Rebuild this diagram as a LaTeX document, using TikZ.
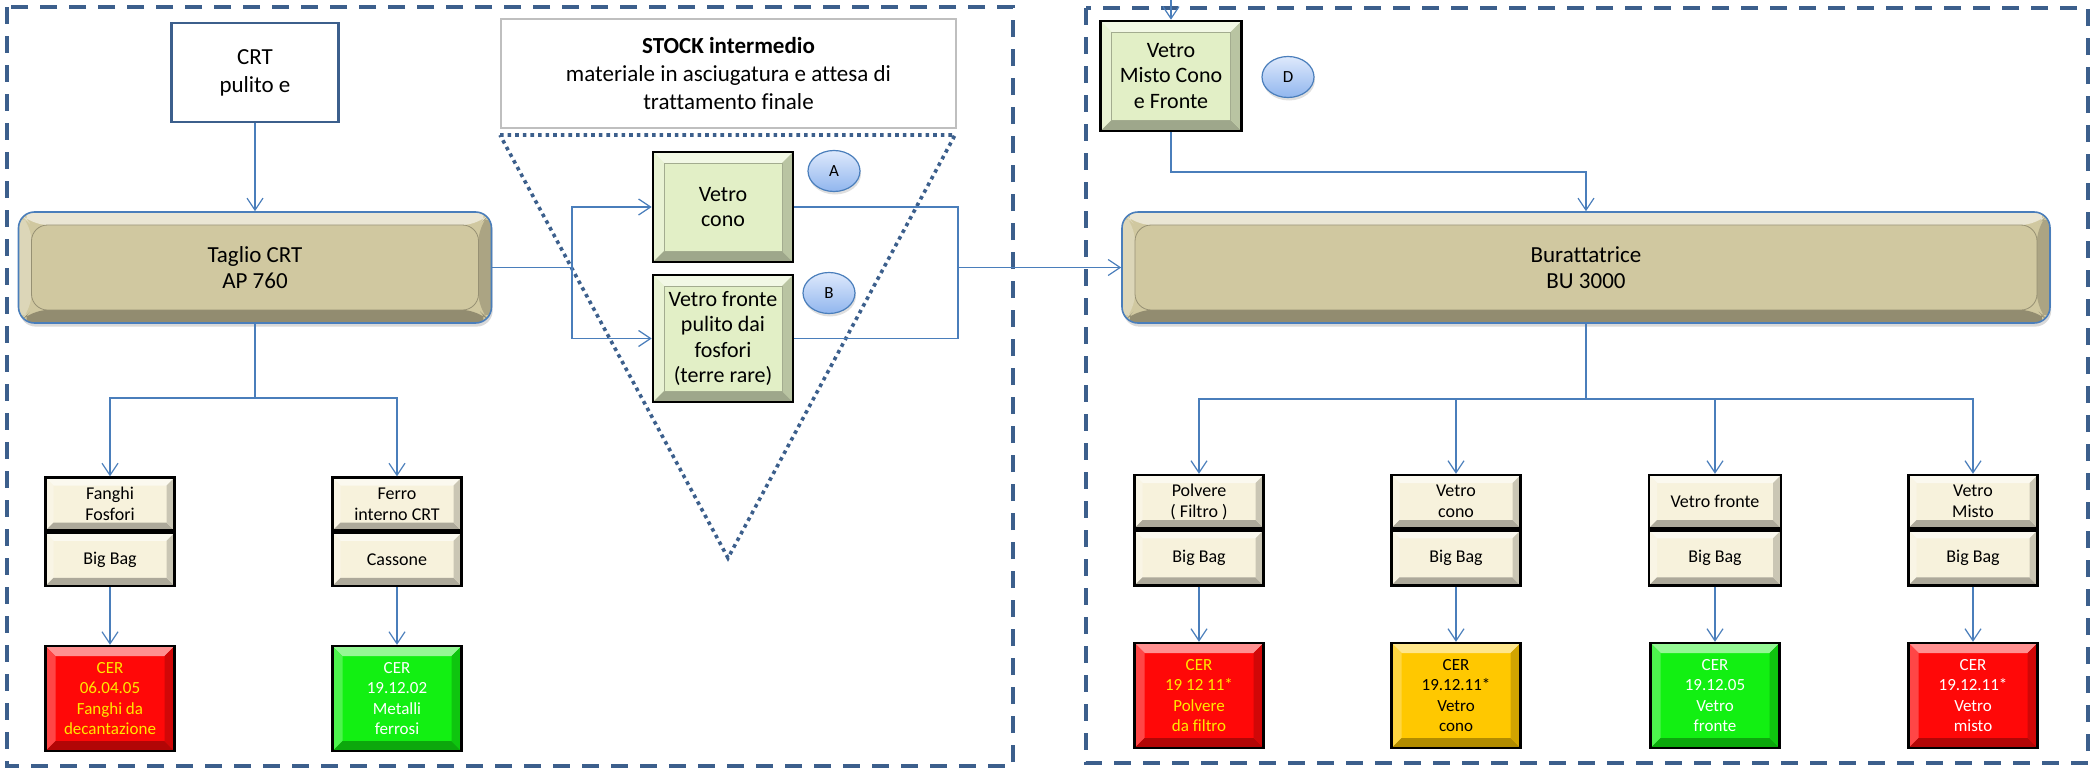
\documentclass[tikz,border=0pt]{standalone}
\usepackage{fontspec}
\setmainfont{Carlito}[Ligatures=NoCommon]
\usetikzlibrary{arrows.meta,positioning,shapes.geometric,shadows}

\definecolor{frameblue}{RGB}{60,95,140}
\definecolor{linkblue}{RGB}{74,126,187}
\definecolor{khaki}{RGB}{208,200,160}
\definecolor{stockgreen}{RGB}{226,239,198}
\definecolor{cream}{RGB}{247,242,220}
\definecolor{cerred}{RGB}{255,8,8}
\definecolor{cergreen}{RGB}{18,240,18}
\definecolor{ceryellow}{RGB}{255,200,0}
\definecolor{textyellow}{RGB}{255,232,0}
\definecolor{ovaltop}{RGB}{222,233,252}
\definecolor{ovalbot}{RGB}{145,182,238}

%% bevel edges inside a node: colour, depth
\newcommand{\bevelfill}[2]{%
  \fill[#1!45!white] (path picture bounding box.north west) -- (path picture bounding box.north east)
    -- ([shift={(-#2,-#2)}]path picture bounding box.north east) -- ([shift={(#2,-#2)}]path picture bounding box.north west) -- cycle;
  \fill[#1!75!white] (path picture bounding box.north west) -- (path picture bounding box.south west)
    -- ([shift={(#2,#2)}]path picture bounding box.south west) -- ([shift={(#2,-#2)}]path picture bounding box.north west) -- cycle;
  \fill[#1!70!black] (path picture bounding box.south west) -- (path picture bounding box.south east)
    -- ([shift={(-#2,#2)}]path picture bounding box.south east) -- ([shift={(#2,#2)}]path picture bounding box.south west) -- cycle;
  \fill[#1!82!black] (path picture bounding box.north east) -- (path picture bounding box.south east)
    -- ([shift={(-#2,#2)}]path picture bounding box.south east) -- ([shift={(-#2,-#2)}]path picture bounding box.north east) -- cycle;
}
\newcommand{\panelline}[2]{%
  \draw[#1!72!black, line width=0.4pt] ([shift={(#2,-#2)}]path picture bounding box.north west)
    rectangle ([shift={(-#2,#2)}]path picture bounding box.south east);
}

\tikzset{
  frame/.style={draw=frameblue, line width=2pt, dash pattern=on 8.5pt off 6pt},
  dotline/.style={draw=frameblue, line width=1.8pt, dash pattern=on 1.8pt off 2pt},
  link/.style={draw=linkblue, line width=0.6pt},
  conn/.style={link, -{Straight Barb[length=6pt,width=8pt]}},
  bevelled/.style 2 args={fill=#1, path picture={\bevelfill{#1}{#2}}},
  panelled/.style 2 args={fill=#1, path picture={\bevelfill{#1}{#2}\panelline{#1}{#2}}},
  plainbox/.style={draw=frameblue, line width=1.35pt, fill=white, minimum width=83.5pt,
    minimum height=49.5pt, align=center, font=\fontsize{11.5}{14}\selectfont},
  stockbox/.style={draw=black!25, line width=0.7pt, fill=white, minimum width=227.5pt,
    minimum height=54.5pt, align=center, font=\fontsize{11.5}{14}\selectfont},
  machine/.style={draw=linkblue, line width=0.8pt, rounded corners=8pt, panelled={khaki}{6.5pt},
    minimum height=55.5pt, align=center, font=\fontsize{11.5}{13.3}\selectfont,
    drop shadow={opacity=0.3, shadow xshift=0.6pt, shadow yshift=-1.8pt}},
  stockitem/.style={draw=black, line width=1.35pt, panelled={stockgreen}{5.5pt},
    minimum width=70pt, align=center, inner sep=1pt, font=\fontsize{11}{12.8}\selectfont},
  oval/.style={ellipse, draw=linkblue, line width=0.6pt, top color=ovaltop, bottom color=ovalbot,
    minimum width=26pt, minimum height=20.5pt, inner sep=0pt, font=\fontsize{8.5}{10}\selectfont,
    drop shadow={opacity=0.25, shadow xshift=0.5pt, shadow yshift=-1.5pt}},
  itembox/.style={draw=black, line width=1.2pt, bevelled={cream}{4pt}, minimum width=64.5pt,
    minimum height=26.5pt, align=center, inner sep=1pt, font=\fontsize{9}{10.5}\selectfont},
  cerbox/.style={draw=black, line width=1.2pt, bevelled={#1}{5pt}, minimum width=64.5pt,
    minimum height=52.5pt, align=center, inner sep=1pt, font=\fontsize{8.5}{10.2}\selectfont}
}

\begin{document}
\begin{tikzpicture}[x=0.5pt,y=-0.5pt]
\useasboundingbox (0,0) rectangle (2094,771);

%% areas
\draw[frame] (7,7) rectangle (1013,766);
\draw[frame] (1086,8) rectangle (2088,763);
\draw[dotline] (500,135) -- (955,135) -- (728,558) -- cycle;

%% cutting
\node[plainbox] (crt) at (255,72.5) {CRT\\pulito e};
\node[machine, minimum width=236.5pt] (taglio) at (255,267.5) {Taglio CRT\\AP 760};

\node[itembox] (fanghi) at (110,504) {Fanghi\\Fosfori};
\node[itembox, below=0pt of fanghi] (fanghibag) {Big Bag};
\node[cerbox=cerred, text=textyellow] (fanghicer) at (110,698.5) {CER\\06.04.05\\Fanghi da\\decantazione};

\node[itembox] (ferro) at (397,504) {Ferro\\interno CRT};
\node[itembox, below=0pt of ferro] (ferrobag) {Cassone};
\node[cerbox=cergreen, text=white] (ferrocer) at (397,698.5) {CER\\19.12.02\\Metalli\\ferrosi};

%% stock
\node[stockbox] (stock) at (728.5,73.5) {\textbf{STOCK intermedio}\\materiale in asciugatura e attesa di\\trattamento finale};
\node[stockitem, minimum height=55pt] (vcono) at (723,207) {Vetro\\cono};
\node[stockitem, minimum height=63.5pt] (vfronte) at (723,338.5) {Vetro fronte\\pulito dai\\fosfori\\(terre rare)};
\node[oval] (ova) at (834,171) {A};
\node[oval] (ovb) at (829,293) {B};

%% tumbling
\node[stockitem, minimum width=70.5pt, minimum height=55pt] (vmisto) at (1171,76) {Vetro\\Misto Cono\\e Fronte};
\node[oval] (ovd) at (1288,77) {D};
\node[machine, minimum width=464pt] (burat) at (1586,267.5) {Burattatrice\\BU 3000};

\node[itembox] (polv) at (1199,501.5) {Polvere\\( Filtro )};
\node[itembox, minimum height=27.5pt, below=0pt of polv] (polvbag) {Big Bag};
\node[cerbox=cerred, text=textyellow] (polvcer) at (1199,695.5) {CER\\19 12 11*\\Polvere\\da filtro};

\node[itembox] (cono) at (1456,501.5) {Vetro\\cono};
\node[itembox, minimum height=27.5pt, below=0pt of cono] (conobag) {Big Bag};
\node[cerbox=ceryellow, text=black] (conocer) at (1456,695.5) {CER\\19.12.11*\\Vetro\\cono};

\node[itembox, minimum width=66pt] (fronte) at (1715,501.5) {Vetro fronte};
\node[itembox, minimum width=66pt, minimum height=27.5pt, below=0pt of fronte] (frontebag) {Big Bag};
\node[cerbox=cergreen, text=white] (frontecer) at (1715,695.5) {CER\\19.12.05\\Vetro\\fronte};

\node[itembox] (misto) at (1973,501.5) {Vetro\\Misto};
\node[itembox, minimum height=27.5pt, below=0pt of misto] (mistobag) {Big Bag};
\node[cerbox=cerred, text=white] (mistocer) at (1973,695.5) {CER\\19.12.11*\\Vetro\\misto};

%% junctions
\coordinate (lbus) at (255,398);
\coordinate (lsplit) at (572,267.5);
\coordinate (rmerge) at (958,267.5);
\coordinate (vmtop) at (1171,0);
\coordinate (dbend) at (1586,172);
\coordinate (rbus) at (1586,399);

%% connectors
\draw[conn] (crt) -- (taglio);
\draw[conn] (taglio.south) -- (lbus) -| (fanghi.north);
\draw[conn] (lbus) -| (ferro.north);
\draw[conn] (fanghibag) -- (fanghicer);
\draw[conn] (ferrobag) -- (ferrocer);

\draw[link] (taglio.east) -- (lsplit);
\draw[conn] (lsplit) |- (vcono.west);
\draw[conn] (lsplit) |- (vfronte.west);
\draw[link] (vcono.east) -| (rmerge);
\draw[link] (vfronte.east) -| (rmerge);
\draw[conn] (rmerge) -- (burat.west);

\draw[conn] (vmtop) -- (vmisto.north);
\draw[conn] (vmisto.south) |- (dbend) -- (burat.north);
\draw[link] (burat.south) -- (rbus);
\foreach \n in {polv,cono,fronte,misto}
  \draw[conn] (rbus) -| (\n.north);
\foreach \n in {polv,cono,fronte,misto}
  \draw[conn] (\n bag) -- (\n cer);
            \end{tikzpicture}
\end{document}
